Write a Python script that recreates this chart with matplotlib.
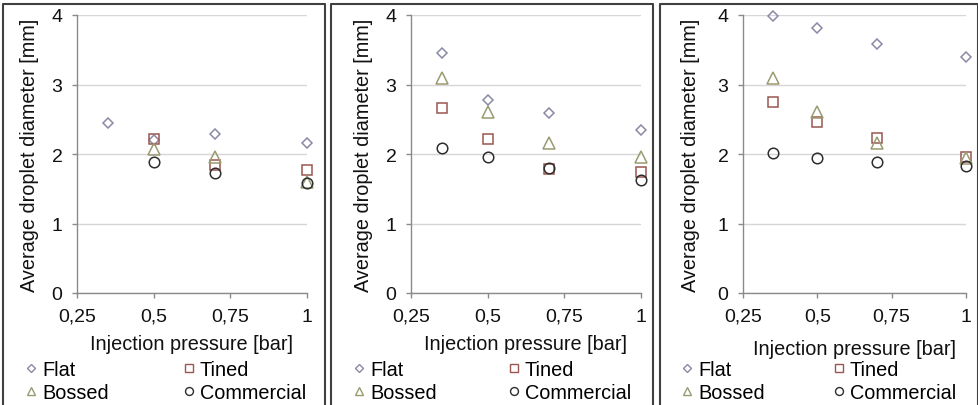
import numpy as np
import matplotlib
matplotlib.use('Agg')
import matplotlib.pyplot as plt
from matplotlib.lines import Line2D

plt.rcParams['font.family'] = ['Liberation Sans', 'DejaVu Sans']

nan = np.nan
pressure = [0.35, 0.5, 0.7, 1.0]
xticks = [0.25, 0.5, 0.75, 1.0]
xticklabels = ['0,25', '0,5', '0,75', '1']
yticks = [0, 1, 2, 3, 4]

series_names = ['Flat', 'Tined', 'Bossed', 'Commercial']

# panel 1
flat_a = [2.44, 2.20, 2.29, 2.16]
tined_a = [nan, 2.21, 1.84, 1.77]
bossed_a = [nan, 2.07, 1.96, 1.60]
comm_a = [nan, 1.89, 1.73, 1.58]
# panel 2
flat_b = [3.45, 2.78, 2.59, 2.35]
tined_b = [2.66, 2.21, 1.79, 1.74]
bossed_b = [3.10, 2.60, 2.16, 1.95]
comm_b = [2.09, 1.95, 1.80, 1.62]
# panel 3
flat_c = [3.98, 3.81, 3.58, 3.39]
tined_c = [2.75, 2.46, 2.23, 1.95]
bossed_c = [3.10, 2.61, 2.16, 1.94]
comm_c = [2.01, 1.94, 1.88, 1.83]

panels = [(flat_a, tined_a, bossed_a, comm_a),
          (flat_b, tined_b, bossed_b, comm_b),
          (flat_c, tined_c, bossed_c, comm_c)]

styles = {'Flat': dict(marker='D', ms=5.6, mec='#8a8aa6'),
          'Tined': dict(marker='s', ms=7.2, mec='#9a5650'),
          'Bossed': dict(marker='^', ms=8.2, mec='#9b9b72'),
          'Commercial': dict(marker='o', ms=7.6, mec='#2e2e2e')}

W, H = 979, 406
fig = plt.figure(figsize=(W/100, H/100), dpi=100)

# axes boxes in pixels: left, right, top(y=4), bottom(y=0)
axes_px = [(77, 307), (411, 641), (743, 966)]
y_top, y_bot = 16, 294
borders = [(3, 325), (331, 653), (660, 978)]
xlabel_top = [335, 335, 340]
ylabel_x = [-0.165, -0.165, -0.195]
legend_px = [(27, 306), (355, 631), (683, 956)]
fs = 14.3

for i, (data, (x0, x1)) in enumerate(zip(panels, axes_px)):
    ax = fig.add_axes([x0/W, (H-y_bot)/H, (x1-x0)/W, (y_bot-y_top)/H])
    for name, vals in zip(series_names, data):
        st = styles[name]
        ax.plot(pressure, vals, ls='none', marker=st['marker'], ms=st['ms'],
                mfc='none', mec=st['mec'], mew=1.1, clip_on=False,
                label=name, zorder=3)
    ax.set_xlim(0.25, 1)
    ax.set_ylim(0, 4)
    ax.set_xticks(xticks)
    ax.set_xticklabels(xticklabels)
    ax.set_yticks(yticks)
    ax.yaxis.grid(True, color='#d6d6d6', lw=1)
    ax.set_axisbelow(True)
    for s in ['top', 'right']:
        ax.spines[s].set_visible(False)
    for s in ['left', 'bottom']:
        ax.spines[s].set_color('#8a8a8a')
        ax.spines[s].set_linewidth(1)
    ax.tick_params(axis='both', length=3.5, width=1, color='#8a8a8a',
                   labelsize=14, pad=7, labelcolor='#111111')
    ax.set_xlabel('Injection pressure [bar]', fontsize=fs, color='#111111')
    ax.xaxis.set_label_coords(0.5, (y_bot - xlabel_top[i]) / (y_bot - y_top))
    ax.set_ylabel('Average droplet diameter [mm]', fontsize=fs, color='#111111')
    ax.yaxis.set_label_coords(ylabel_x[i], 0.5)

    lx0, lx1 = legend_px[i]
    handles = [Line2D([], [], ls='none', marker=styles[n]['marker'],
                      ms=styles[n]['ms']*0.75, mfc='none', mec=styles[n]['mec'],
                      mew=1) for n in ['Flat', 'Bossed', 'Tined', 'Commercial']]
    ax.legend(handles, ['Flat', 'Bossed', 'Tined', 'Commercial'], ncol=2,
              loc='upper left', mode='expand', frameon=False,
              bbox_to_anchor=(lx0/W, (H-365)/H, (lx1-lx0)/W, 0.01),
              bbox_transform=fig.transFigure, fontsize=fs,
              borderpad=0, borderaxespad=0, handlelength=0.45,
              handletextpad=0.3, labelspacing=0.22, columnspacing=0.5)

    bx0, bx1 = borders[i]
    fig.add_artist(Line2D([bx0/W, bx0/W, bx1/W, bx1/W],
                          [0, (H-5)/H, (H-5)/H, 0],
                          transform=fig.transFigure, color='#404040', lw=1.5))

fig.savefig('out.png', dpi=100, facecolor='white')
